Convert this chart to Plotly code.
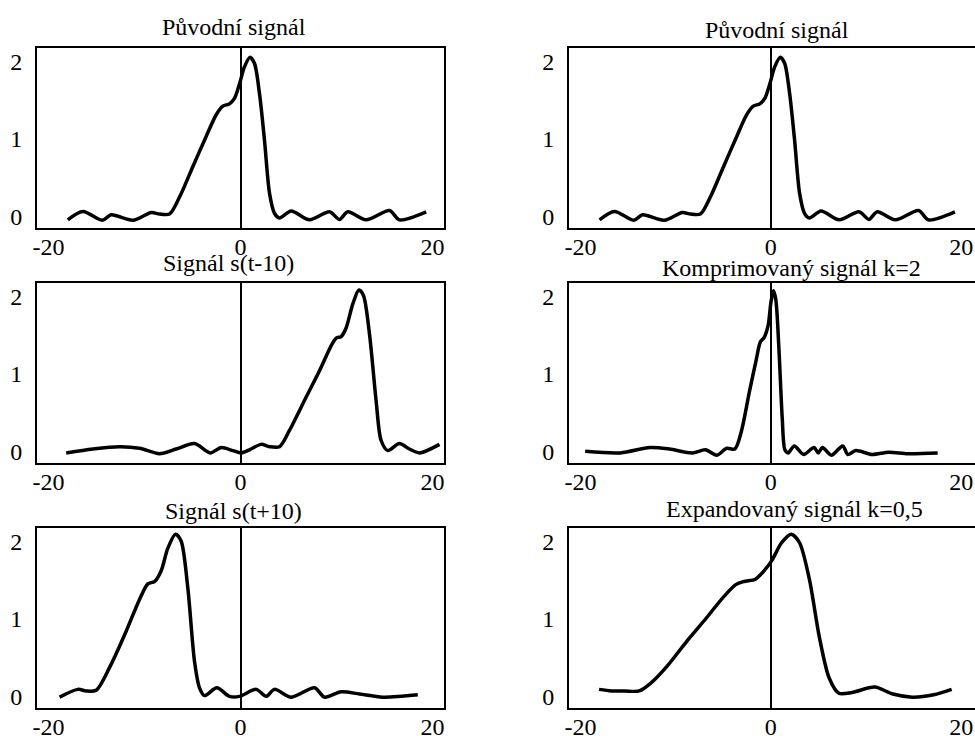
import plotly.graph_objects as go

# ---- data ----
# Original signal (used in both "Původní signál" panels)
orig_t = [-17.99, -16.42, -14.41, -13.47, -11.2, -9.3, -8.44, -7.4, -6.35, -4.97, -3.58, -2.53,
          -1.84, -1.15, -0.63, -0.1, 0.42, 1.0, 1.46, 1.98, 2.5, 3.02, 3.54, 4.06, 5.28, 7.19,
          9.27, 10.3, 11.18, 13.09, 15.52, 16.56, 19.34]
orig_s = [-0.045, 0.062, -0.05, 0.02, -0.05, 0.05, 0.03, 0.03, 0.25, 0.64, 1.03, 1.31,
          1.42, 1.45, 1.52, 1.71, 1.93, 2.05, 1.97, 1.58, 0.98, 0.30, 0.04, -0.02, 0.07, -0.045,
          0.06, -0.04, 0.06, -0.045, 0.075, -0.045, 0.058]

# Signál s(t-10)
shr_t = [-18.16, -15.38, -12.6, -10.52, -8.44, -6.7, -4.79, -3.16, -2.01, -0.8, 0.07, 0.94,
         2.15, 3.02, 4.06, 5.1, 6.84, 8.23, 9.44, 9.97, 10.49, 11.0, 11.7, 12.33, 12.81, 13.44,
         14.13, 14.65, 15.35, 16.56, 17.6, 18.65, 20.73]
shr_s = [-0.02, 0.03, 0.06, 0.04, -0.03, 0.03, 0.10, -0.02, 0.05, 0.01, -0.02, 0.02,
         0.09, 0.06, 0.06, 0.27, 0.70, 1.04, 1.36, 1.46, 1.48, 1.59, 1.90, 2.08, 2.01, 1.51,
         0.65, 0.14, 0.01, 0.10, 0.03, -0.02, 0.09]

# Signál s(t+10)
shl_t = [-18.85, -16.94, -16.08, -15.03, -13.65, -11.91, -10.52, -9.65, -8.96, -8.26, -7.57,
         -6.77, -6.18, -5.49, -4.79, -4.27, -3.75, -2.47, -1.15, -0.1, 1.63, 2.67, 3.54, 5.28,
         7.71, 8.75, 10.49, 12.4, 14.83, 18.47]
shl_s = [-0.01, 0.09, 0.07, 0.08, 0.37, 0.84, 1.25, 1.45, 1.48, 1.62, 1.91,
         2.09, 2.0, 1.40, 0.45, 0.11, 0.01, 0.11, 0.0, 0.0, 0.09, 0.0, 0.09, -0.01,
         0.11, -0.01, 0.06, 0.03, -0.01, 0.02]

# Komprimovaný signál k=2
cmp_t = [-19.5, -15.8, -12.7, -10.65, -8.25, -6.87, -5.67, -4.64, -3.78, -3.09, -2.23, -1.55,
         -1.1, -0.69, -0.27, 0.0, 0.27, 0.52, 0.86, 1.2, 1.48, 1.82, 2.47, 3.44, 4.54, 4.98,
         5.43, 6.36, 7.56, 8.08, 8.93, 10.65, 12.37, 14.43, 17.53]
cmp_s = [0.0, -0.02, 0.05, 0.03, -0.02, 0.02, -0.05, 0.04, 0.03, 0.26, 0.78, 1.17,
         1.41, 1.47, 1.63, 1.91, 2.07, 1.96, 1.30, 0.43, 0.02, -0.02, 0.07, -0.04, 0.05, -0.02,
         0.05, -0.05, 0.07, -0.04, 0.01, -0.04, -0.01, -0.03, -0.02]

# Expandovaný signál k=0,5
exp_t = [-18.04, -16.74, -15.36, -13.81, -12.61, -10.89, -8.83, -6.77, -5.05, -3.68, -2.82,
         -1.62, -0.76, 0.1, 1.13, 2.16, 3.02, 4.05, 5.09, 6.12, 7.15, 8.52, 10.93, 12.82,
         14.88, 17.11, 19.0]
exp_s = [0.09, 0.07, 0.07, 0.07, 0.17, 0.39, 0.71, 1.01, 1.27, 1.44, 1.48,
         1.51, 1.61, 1.75, 1.98, 2.09, 1.98, 1.51, 0.77, 0.24, 0.04, 0.05, 0.12, 0.03,
         -0.01, 0.02, 0.09]

titles = ["Původní signál", "Původní signál", "Signál s(t-10)", "Komprimovaný signál k=2",
          "Signál s(t+10)", "Expandovaný signál k=0,5"]
x_ticks = [-20, 0, 20]
x_tick_text = ["-20", "0", "20"]
y_ticks = [0, 1, 2]
y_tick_text = ["0", "1", "2"]

series = [(orig_t, orig_s), (orig_t, orig_s), (shr_t, shr_s), (cmp_t, cmp_s),
          (shl_t, shl_s), (exp_t, exp_s)]

# ---- layout geometry (pixels) ----
W, H = 975, 736
col_px = [(37, 444), (569, 975)]
col_range = [[-21.2, 21.2], [-21.2, 21.45]]
row_px = [(48, 228), (283, 463), (528, 708)]
title_pos = [(234, 27), (777, 30), (228, 263), (791, 268), (233, 511), (794, 509)]

FONT = "Liberation Serif"
fig = go.Figure()
layout = dict(
    width=W, height=H, margin=dict(l=0, r=0, t=0, b=0),
    paper_bgcolor="white", plot_bgcolor="white", showlegend=False,
    font=dict(family=FONT, size=23, color="black"),
)

annotations = []
for i, (tx, sy) in enumerate(series):
    r, c = divmod(i, 2)
    n = "" if i == 0 else str(i + 1)
    fig.add_trace(go.Scatter(x=tx, y=sy, mode="lines", xaxis="x" + n, yaxis="y" + n,
                             line=dict(color="black", width=3.5, shape="spline", smoothing=0.8),
                             hoverinfo="skip"))
    x0, x1 = col_px[c]
    y0, y1 = row_px[r]
    layout["xaxis" + n] = dict(
        domain=[x0 / W, x1 / W], range=col_range[c], anchor="y" + n,
        tickmode="array", tickvals=x_ticks, ticktext=x_tick_text,
        showgrid=False, showline=True, linecolor="black", linewidth=2, mirror=True,
        zeroline=True, zerolinecolor="black", zerolinewidth=1.5,
        ticks="", ticklabelstandoff=-4, automargin=False, ticklabeloverflow="allow",
        tickfont=dict(family=FONT, size=24, color="black"), fixedrange=True,
    )
    layout["yaxis" + n] = dict(
        domain=[1 - y1 / H, 1 - y0 / H], range=[-0.15, 2.17], anchor="x" + n,
        tickmode="array", tickvals=y_ticks, ticktext=y_tick_text,
        showgrid=False, showline=True, linecolor="black", linewidth=2,
        mirror=(c == 0), zeroline=False,
        ticks="", ticklabelstandoff=8, automargin=False, ticklabeloverflow="allow",
        tickfont=dict(family=FONT, size=24, color="black"), fixedrange=True,
    )
    px, py = title_pos[i]
    annotations.append(dict(text=titles[i], x=px / W, y=1 - py / H, xref="paper", yref="paper",
                            xanchor="center", yanchor="middle", showarrow=False,
                            font=dict(family=FONT, size=24, color="black")))

layout["annotations"] = annotations
fig.update_layout(**layout)
fig.write_html("out.html")
